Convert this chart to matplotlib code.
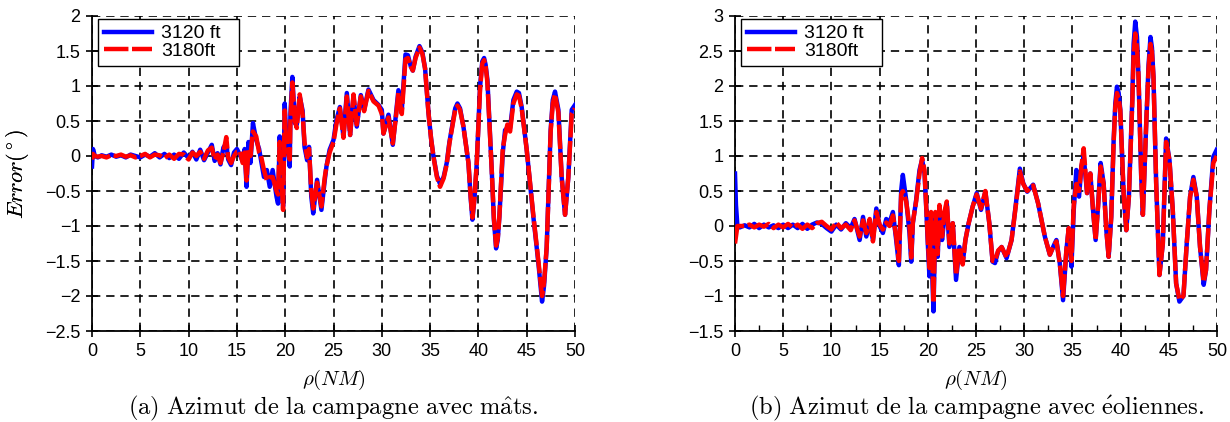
import matplotlib
matplotlib.use("Agg")
import matplotlib.pyplot as plt
from matplotlib.ticker import FixedLocator, FuncFormatter, MultipleLocator

# ---------------- data ----------------
rho_a = [0.0, 0.1, 0.3, 0.6, 1.0, 1.5, 2.0, 2.5, 3.0, 3.5, 4.0, 4.5, 5.0, 5.5, 6.0, 6.5,
         7.0, 7.5, 8.0, 8.5, 9.0, 9.5, 10.0, 10.4, 10.8, 11.2, 11.6, 12.0, 12.4, 12.7,
         13.0, 13.3, 13.6, 13.9, 14.1, 14.4, 14.7, 15.0, 15.3, 15.6, 15.8, 16.0, 16.2,
         16.4, 16.66, 17.0, 17.3, 17.5, 17.8, 18.1, 18.4, 18.7, 19.1, 19.26, 19.43, 19.6,
         19.78, 19.95, 20.1, 20.47, 20.54, 20.74, 21.0, 21.2, 21.5, 21.8, 22.0, 22.27,
         22.47, 22.7, 22.9, 23.3, 23.75, 24.1, 24.27, 24.6, 25.0, 25.3, 25.66, 26.03,
         26.38, 26.72, 27.07, 27.41, 27.83, 28.17, 28.62, 29.14, 29.66, 30.0, 30.17,
         30.69, 31.14, 31.48, 31.72, 32.07, 32.45, 32.7, 33.0, 33.21, 33.5, 33.9, 34.2,
         34.48, 34.83, 35.1, 35.34, 35.7, 36.03, 36.4, 36.72, 37.0, 37.34, 37.6, 37.83,
         38.1, 38.45, 38.97, 39.2, 39.38, 39.6, 39.83, 40.17, 40.4, 40.59, 40.75, 40.93,
         41.38, 41.6, 41.83, 42.0, 42.17, 42.52, 42.76, 43.0, 43.28, 43.62, 43.97, 44.2,
         44.48, 45.0, 45.69, 46.21, 46.59, 46.8, 47.07, 47.48, 47.7, 47.93, 48.28, 48.62,
         48.97, 49.31, 49.66, 50.0]
err_a_3120 = [-0.15, 0.10, 0.00, -0.02, 0.01, -0.01, 0.02, -0.01, 0.01, -0.02, 0.02, 0.00,
              -0.02, 0.02, -0.01, 0.04, -0.02, 0.03, -0.03, 0.02, -0.04, 0.05, -0.03, 0.06,
              -0.05, 0.09, -0.06, 0.05, 0.16, -0.07, 0.04, -0.12, 0.12, 0.18, -0.05, -0.13,
              0.05, 0.10, 0.02, -0.08, 0.10, -0.44, 0.20, -0.10, 0.47, 0.23, 0.10, -0.06,
              -0.30, -0.20, -0.44, -0.20, -0.58, -0.68, 0.28, -0.10, -0.72, 0.75, 0.30,
              -0.15, 0.60, 1.13, 0.47, 0.45, 0.85, 0.65, 0.13, -0.06, 0.13, -0.58, -0.82,
              -0.34, -0.77, -0.34, -0.15, 0.09, 0.23, 0.51, 0.70, 0.28, 0.90, 0.30, 0.85,
              0.42, 0.87, 0.66, 0.95, 0.80, 0.73, 0.66, 0.32, 0.59, 0.16, 0.61, 0.94, 0.66,
              1.45, 1.44, 1.28, 1.22, 1.42, 1.57, 1.48, 1.25, 0.62, 0.25, 0.00, -0.28, -0.40,
              -0.30, -0.10, 0.20, 0.47, 0.68, 0.75, 0.68, 0.42, -0.10, -0.60, -0.91, -0.60,
              -0.10, 0.99, 1.35, 1.40, 1.30, 1.09, -0.20, -0.90, -1.32, -1.20, -0.87, 0.04,
              0.37, 0.40, 0.40, 0.80, 0.92, 0.90, 0.70, 0.09, -0.87, -1.53, -2.08, -1.85,
              -1.30, 0.37, 0.80, 0.92, 0.66, -0.30, -0.84, -0.30, 0.66, 0.73]
err_a_3180 = [-0.05, 0.03, 0.00, -0.01, 0.00, -0.02, 0.01, 0.00, 0.02, -0.01, 0.01, -0.02,
              0.00, 0.03, -0.02, 0.02, 0.01, -0.03, 0.02, -0.04, 0.03, 0.02, -0.05, 0.05,
              0.00, 0.06, -0.04, 0.08, 0.12, -0.05, 0.02, -0.10, 0.05, 0.27, -0.02, -0.10,
              0.00, 0.06, 0.07, -0.10, 0.05, -0.35, 0.10, 0.00, 0.35, 0.28, 0.05, 0.00,
              -0.20, -0.35, -0.30, -0.30, -0.50, -0.55, 0.20, -0.30, -0.77, 0.65, 0.20,
              -0.05, 0.50, 1.05, 0.50, 0.40, 0.88, 0.60, 0.20, -0.02, 0.10, -0.50, -0.75,
              -0.38, -0.72, -0.30, -0.15, 0.05, 0.20, 0.45, 0.68, 0.26, 0.85, 0.30, 0.88,
              0.45, 0.85, 0.64, 0.93, 0.78, 0.72, 0.60, 0.32, 0.55, 0.18, 0.58, 0.90, 0.60,
              1.38, 1.40, 1.28, 1.22, 1.40, 1.55, 1.46, 1.25, 0.62, 0.25, 0.00, -0.30, -0.44,
              -0.32, -0.12, 0.18, 0.45, 0.66, 0.72, 0.66, 0.42, -0.10, -0.58, -0.88, -0.60,
              -0.10, 0.95, 1.32, 1.37, 1.28, 1.05, -0.20, -0.88, -1.28, -1.18, -0.87, 0.10,
              0.30, 0.45, 0.35, 0.75, 0.88, 0.86, 0.68, 0.09, -0.85, -1.50, -2.00, -1.80,
              -1.30, 0.35, 0.75, 0.88, 0.62, -0.30, -0.84, -0.30, 0.60, 0.68]

rho_b = [0.0, 0.1, 0.25, 0.5, 1.0, 1.5, 2.0, 2.5, 3.0, 3.5, 4.0, 4.5, 5.0, 5.5, 6.0, 6.5,
         7.0, 7.5, 8.0, 8.5, 9.0, 9.5, 10.0, 10.5, 11.0, 11.5, 12.0, 12.4, 12.93, 13.28,
         13.62, 13.97, 14.31, 14.66, 15.0, 15.34, 15.69, 16.03, 16.38, 16.72, 17.0, 17.24,
         17.41, 17.76, 18.1, 18.28, 18.45, 18.79, 19.14, 19.41, 19.66, 19.83, 20.0, 20.17,
         20.34, 20.59, 20.79, 21.03, 21.21, 21.48, 21.72, 21.97, 22.24, 22.59, 22.93,
         23.28, 23.62, 23.9, 24.24, 24.66, 25.07, 25.52, 25.97, 26.38, 26.72, 26.97, 27.3,
         27.66, 28.17, 28.69, 29.14, 29.55, 29.9, 30.31, 30.93, 31.45, 32.14, 32.66, 33.0,
         33.34, 33.69, 34.03, 34.38, 34.62, 34.9, 35.14, 35.41, 35.69, 35.93, 36.17, 36.52,
         36.86, 37.14, 37.41, 37.66, 37.93, 38.24, 38.52, 38.76, 39.03, 39.28, 39.45, 39.62,
         39.8, 39.97, 40.31, 40.59, 40.86, 41.21, 41.35, 41.52, 41.7, 41.86, 42.14, 42.31,
         42.66, 42.9, 43.1, 43.25, 43.41, 43.69, 44.03, 44.38, 44.72, 45.07, 45.41, 45.76,
         46.1, 46.52, 46.86, 47.21, 47.55, 47.9, 48.24, 48.62, 48.86, 49.21, 49.62, 49.97]
err_b_3120 = [0.75, 0.30, 0.00, -0.02, 0.01, -0.02, 0.03, -0.03, 0.02, -0.02, 0.01, -0.03,
              0.02, -0.03, 0.02, -0.03, 0.03, -0.04, 0.02, 0.05, 0.03, -0.03, -0.08, 0.02,
              -0.05, 0.04, -0.03, 0.10, -0.20, 0.13, -0.15, 0.05, -0.20, 0.25, 0.00, -0.10,
              0.10, 0.05, 0.20, -0.20, -0.56, 0.51, 0.73, 0.37, -0.10, -0.51, 0.04, 0.37,
              0.80, 0.95, 0.75, 0.28, -0.25, -0.72, -0.20, -1.22, 0.13, -0.44, 0.28, -0.20,
              0.13, 0.32, -0.30, 0.04, -0.77, -0.30, -0.53, -0.20, 0.04, 0.28, 0.47, 0.23,
              0.49, 0.04, -0.51, -0.53, -0.36, -0.30, -0.46, -0.20, 0.32, 0.82, 0.61, 0.49,
              0.59, 0.32, -0.15, -0.41, -0.30, -0.20, -0.53, -1.06, -0.34, -0.03, -0.58,
              0.23, 0.80, 0.42, 0.85, 1.00, 0.47, 0.75, 0.23, -0.20, 0.28, 0.90, 0.61, -0.06,
              -0.44, 0.13, 1.23, 1.75, 1.99, 1.90, 1.66, 0.47, -0.06, 0.42, 1.80, 2.60, 2.92,
              2.70, 2.13, 0.70, 0.16, 1.47, 2.30, 2.70, 2.55, 2.13, 0.61, -0.70, -0.25, 1.25,
              0.94, 0.23, -0.82, -1.08, -1.00, -0.25, 0.42, 0.70, 0.42, -0.30, -0.84, -0.63,
              0.23, 0.99, 1.09]
err_b_3180 = [-0.25, -0.15, 0.00, 0.00, 0.00, 0.02, -0.02, 0.02, -0.01, 0.03, -0.03, 0.02,
              -0.02, 0.03, -0.02, 0.02, -0.04, 0.02, -0.03, 0.04, 0.06, 0.00, -0.05, 0.05,
              -0.03, 0.02, -0.06, 0.08, -0.15, 0.08, -0.10, 0.10, -0.22, 0.20, 0.02, -0.05,
              0.05, 0.00, 0.15, -0.15, -0.50, 0.45, 0.50, 0.35, 0.00, -0.45, 0.05, 0.35,
              0.75, 0.97, 0.80, 0.30, -0.20, -0.60, 0.20, -1.10, 0.20, -0.40, 0.30, -0.15,
              0.20, 0.35, -0.25, 0.04, -0.70, -0.30, -0.55, -0.20, 0.04, 0.28, 0.45, 0.25,
              0.50, 0.04, -0.50, -0.50, -0.35, -0.30, -0.45, -0.20, 0.30, 0.78, 0.60, 0.50,
              0.58, 0.32, -0.15, -0.41, -0.30, -0.22, -0.53, -1.00, -0.34, -0.03, -0.50,
              0.30, 0.60, 0.50, 0.85, 1.11, 0.47, 0.75, 0.23, -0.20, 0.28, 0.85, 0.60, -0.06,
              -0.44, 0.13, 1.20, 1.70, 1.90, 1.82, 1.65, 0.47, -0.06, 0.42, 1.75, 2.45, 2.75,
              2.55, 2.13, 0.70, 0.16, 1.47, 2.25, 2.60, 2.48, 2.13, 0.61, -0.70, -0.25, 1.20,
              0.94, 0.23, -0.82, -1.05, -1.00, -0.25, 0.42, 0.66, 0.42, -0.30, -0.80, -0.63,
              0.23, 0.90, 1.00]

series_labels = ["3120 ft", "3180ft"]
x_ticks = [0, 5, 10, 15, 20, 25, 30, 35, 40, 45, 50]
y_ticks_a = [-2.5, -2, -1.5, -1, -0.5, 0, 0.5, 1, 1.5, 2]
y_ticks_b = [-1.5, -1, -0.5, 0, 0.5, 1, 1.5, 2, 2.5, 3]
captions = [r"$\mathrm{(a)\ Azimut\ de\ la\ campagne\ avec\ m\hat{a}ts.}$",
            r"$\mathrm{(b)\ Azimut\ de\ la\ campagne\ avec\ \acute{e}oliennes.}$"]

# ---------------- style ----------------
plt.rcParams["font.family"] = ["Liberation Sans", "DejaVu Sans"]
plt.rcParams["mathtext.fontset"] = "cm"

W, H = 1230, 422
fig = plt.figure(figsize=(W / 100, H / 100), dpi=100)

def fmt(v, pos):
    s = f"{v:g}"
    return s.replace("-", "\u2212")

panels = [
    (92, 575, rho_a, err_a_3120, err_a_3180, (-2.5, 2), y_ticks_a, captions[0], False),
    (735, 1217, rho_b, err_b_3120, err_b_3180, (-1.5, 3), y_ticks_b, captions[1], True),
]

for (x0, x1, rho, e1, e2, ylim, yt, cap, minor) in panels:
    top, bot = 16, 331
    aw, ah = x1 - x0, bot - top
    ax = fig.add_axes([x0 / W, 1 - bot / H, aw / W, ah / H])
    ax.plot(rho, e1, color=(0, 0, 1), lw=3.2, solid_joinstyle="round",
            label=series_labels[0], zorder=3)
    ax.plot(rho, e2, color=(1, 0, 0), lw=3.2, ls=(0, (5.5, 0.8)),
            dash_joinstyle="round", label=series_labels[1], zorder=4)
    ax.set_xlim(0, 50)
    ax.set_ylim(*ylim)
    ax.xaxis.set_major_locator(FixedLocator(x_ticks))
    ax.yaxis.set_major_locator(FixedLocator(yt))
    ax.xaxis.set_major_formatter(FuncFormatter(fmt))
    ax.yaxis.set_major_formatter(FuncFormatter(fmt))
    if minor:
        ax.xaxis.set_minor_locator(MultipleLocator(2.5))
        ax.tick_params(axis="x", which="minor", direction="in", length=4, width=1.0)
    ax.tick_params(which="major", direction="inout", length=9, width=1.2,
                   labelsize=13, colors="black", pad=4)
    for s in ("top", "right"):
        ax.spines[s].set_visible(False)
    for s in ("left", "bottom"):
        ax.spines[s].set_linewidth(1.3)
    ax.grid(True, which="major", color="black", ls=(0, (5, 3.5)), lw=1.2, zorder=1)
    ax.set_axisbelow(True)
    ax.set_ylabel(r"$Error(^\circ)$", fontsize=16)
    ax.set_xlabel(r"$\rho(NM)$", fontsize=15)
    ax.yaxis.set_label_coords((31 - x0) / aw, 0.5)
    ax.xaxis.set_label_coords(0.5, (bot - 368) / ah)
    leg = ax.legend(loc="upper left",
                    bbox_to_anchor=(6 / aw, 1 - 3 / ah, 141 / aw, 0),
                    mode="expand", borderaxespad=0, fontsize=14, frameon=True,
                    fancybox=False, framealpha=1, edgecolor="black",
                    handlelength=2.5, handletextpad=0.45, labelspacing=0.0,
                    borderpad=0.3)
    leg.get_frame().set_linewidth(1.0)
    fig.text(((x0 + x1) / 2) / W, 1 - 408 / H, cap, ha="center", va="center",
             fontsize=17.7)

fig.savefig("out.png", dpi=100)
